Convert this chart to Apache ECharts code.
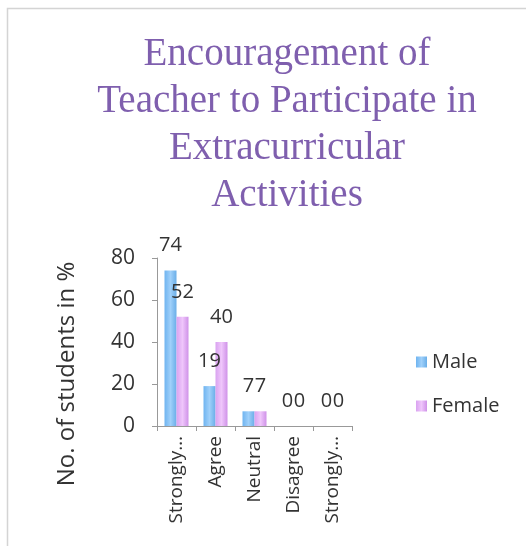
<!DOCTYPE html>
<html>
<head>
<meta charset="utf-8">
<script src="https://cdn.jsdelivr.net/npm/echarts@6/dist/echarts.min.js"></script>
<style>
  html, body { margin: 0; padding: 0; background: #fff; }
  #chart { width: 526px; height: 546px; }
</style>
</head>
<body>
<div id="chart"></div>
<script>
const categories = ["Strongly Agree", "Agree", "Neutral", "Disagree", "Strongly Disagree"];
const maleValues = [74, 19, 7, 0, 0];
const femaleValues = [52, 40, 7, 0, 0];
const titleText = "Encouragement of\nTeacher to Participate in\nExtracurricular\nActivities";

const chart = echarts.init(document.getElementById("chart"), null, { renderer: "canvas" });

const sans = "'Open Sans', 'Liberation Sans', sans-serif";

chart.setOption({
  animation: false,
  backgroundColor: "#fff",
  graphic: [
    {
      // faint frame of the chart area (only its top and left edges are in view)
      type: "rect",
      silent: true,
      shape: { x: 7.5, y: 8.5, width: 540, height: 560 },
      style: { fill: "none", stroke: "#d4d4d4", lineWidth: 1.5 },
    },
  ],
  title: {
    text: titleText,
    left: 282,
    top: 26,
    textAlign: "center",
    textStyle: {
      fontFamily: "'Liberation Serif', 'DejaVu Serif', serif",
      fontWeight: "normal",
      fontSize: 39,
      lineHeight: 47,
      color: "#7f5fae",
    },
  },
  legend: {
    orient: "vertical",
    left: 411,
    top: 347,
    itemGap: 24,
    itemWidth: 11,
    itemHeight: 11,
    icon: "rect",
    textStyle: { fontFamily: sans, fontSize: 20, color: "#333" },
    data: ["Male", "Female"],
  },
  grid: { left: 157, right: 174, top: 258, bottom: 120 },
  xAxis: {
    type: "category",
    data: categories,
    axisLine: { lineStyle: { color: "#999" } },
    axisTick: { show: true, length: 5, lineStyle: { color: "#999" } },
    axisLabel: {
      rotate: 90,
      interval: 0,
      margin: 10,
      fontFamily: sans,
      fontSize: 19,
      color: "#333",
      formatter: (v) => (v.length > 9 ? v.slice(0, 8) + "…" : v),
    },
  },
  yAxis: {
    type: "value",
    min: 0,
    max: 80,
    interval: 20,
    name: "No. of students in %",
    nameLocation: "middle",
    nameGap: 78,
    nameRotate: 90,
    nameTextStyle: { fontFamily: sans, fontSize: 24, color: "#333", padding: [0, 64, 0, 0] },
    axisLine: { show: true, lineStyle: { color: "#999" } },
    axisTick: { show: true, length: 5, lineStyle: { color: "#999" } },
    splitLine: { show: false },
    axisLabel: { fontFamily: sans, fontSize: 21, color: "#333", margin: 22 },
  },
  series: [
    {
      name: "Male",
      type: "bar",
      data: maleValues,
      barWidth: 12,
      barGap: "0%",
      itemStyle: {
        color: new echarts.graphic.LinearGradient(0, 0, 1, 0, [
          { offset: 0, color: "#6fb4f0" },
          { offset: 0.5, color: "#9fd0fa" },
          { offset: 1, color: "#6aaee8" },
        ]),
      },
      label: { show: true, position: "top", distance: 15, fontFamily: sans, fontSize: 20, color: "#333" },
    },
    {
      name: "Female",
      type: "bar",
      data: femaleValues,
      barWidth: 12,
      itemStyle: {
        color: new echarts.graphic.LinearGradient(0, 0, 1, 0, [
          { offset: 0, color: "#d9a2f0" },
          { offset: 0.5, color: "#efc6fb" },
          { offset: 1, color: "#cf92e8" },
        ]),
      },
      label: { show: true, position: "top", distance: 15, fontFamily: sans, fontSize: 20, color: "#333" },
    },
  ],
  color: ["#8cc4f5", "#e4b0f4"],
});
</script>
</body>
</html>
